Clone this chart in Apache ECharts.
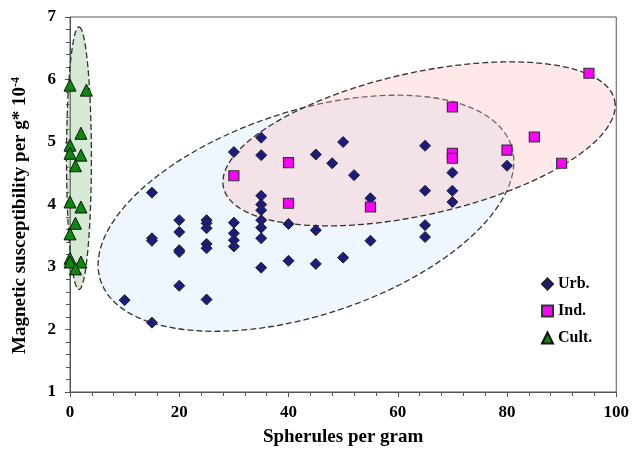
<!DOCTYPE html>
<html>
<head>
<meta charset="utf-8">
<script src="https://cdn.jsdelivr.net/npm/echarts@6/dist/echarts.min.js"></script>
<style>
  html, body { margin: 0; padding: 0; background: #fff; }
  #container { width: 632px; height: 454px; }
</style>
</head>
<body>
<div id="container"></div>
<script>
// spherules per gram, susceptibility (x 10^-4)
var urbData = [
  [10,2.47],[15,2.11],[15,3.46],[15,3.42],[15,4.19],
  [20,3.75],[20,3.56],[20,3.27],[20,3.24],[20,2.70],
  [25,3.75],[25,3.70],[25,3.62],[25,3.37],[25,3.30],[25,2.48],
  [30,4.84],[30,3.71],[30,3.54],[30,3.43],[30,3.33],
  [35,5.07],[35,4.79],[35,4.14],[35,4.00],[35,3.91],[35,3.75],[35,3.63],[35,3.46],[35,2.99],
  [40,3.69],[40,3.10],
  [45,4.80],[45,3.59],[45,3.05],
  [48,4.66],
  [50,5.00],[50,3.15],
  [52,4.47],
  [55,4.10],[55,3.42],
  [65,4.94],[65,4.22],[65,3.67],[65,3.48],
  [70,4.51],[70,4.22],[70,4.04],
  [80,4.62]
];
var indData = [
  [30,4.46],[40,4.67],[40,4.02],[55,3.96],[70,5.56],[70,4.82],[70,4.74],
  [80,4.87],[85,5.08],[90,4.66],[95,6.10]
];
var cultData = [
  [0,5.91],[3,5.83],[2,5.14],[0,4.95],[0,4.82],[2,4.79],[1,4.62],[0,4.04],
  [2,3.96],[1,3.70],[0,3.53],[0,3.14],[0,3.08],[2,3.08],[1,2.97]
];
var seriesNames = ['Urb.', 'Ind.', 'Cult.'];

// group ellipses in data units: centre x, centre y, semi-diameter vectors u and v
var ellipses = [
  [43.2, 3.86, 37.6, 1.08, 5.9, -1.55],    // Urb.
  [1.64, 4.74, 0, 2.10, 2.28, 0],          // Cult.
  [63.9, 4.97, 35.8, 0.70, 2.83, -1.11]    // Ind.
];
var ellipseFill = ['rgba(220,234,252,0.45)', 'rgba(150,200,150,0.4)', 'rgba(255,190,195,0.35)'];

var dom = document.getElementById('container');
var myChart = echarts.init(dom);
var font = '"Liberation Serif", "Times New Roman", serif';

function renderEllipse(params, api) {
  var e = ellipses[params.dataIndex];
  var pts = [];
  for (var i = 0; i < 120; i++) {
    var t = i / 120 * Math.PI * 2;
    var c = Math.cos(t), s = Math.sin(t);
    pts.push(api.coord([e[0] + c * e[2] + s * e[4], e[1] + c * e[3] + s * e[5]]));
  }
  return {
    type: 'polygon',
    shape: { points: pts },
    style: {
      fill: ellipseFill[params.dataIndex],
      stroke: '#333',
      lineWidth: 1.3,
      lineDash: [6, 3]
    }
  };
}

var option = {
  animation: false,
  grid: {
    left: 70, right: 14, top: 17, bottom: 62,
    show: true, borderColor: '#555', borderWidth: 1
  },
  legend: {
    data: seriesNames,
    orient: 'vertical',
    left: 536, top: 271,
    itemWidth: 11, itemHeight: 11, itemGap: 11,
    textStyle: { fontFamily: font, fontWeight: 'bold', fontSize: 16, color: '#000' }
  },
  xAxis: {
    type: 'value', min: 0, max: 100, interval: 20,
    name: 'Spherules per gram', nameLocation: 'middle', nameGap: 36,
    nameTextStyle: { fontFamily: font, fontWeight: 'bold', fontSize: 19, color: '#000' },
    axisLine: { lineStyle: { color: '#555' } },
    axisTick: { show: true, length: 5, lineStyle: { color: '#555' } },
    minorTick: { show: true, splitNumber: 5, length: 4, lineStyle: { color: '#555' } },
    splitLine: { show: false },
    axisLabel: { fontFamily: font, fontWeight: 'bold', fontSize: 17, color: '#000', margin: 12 }
  },
  yAxis: {
    type: 'value', min: 1, max: 7, interval: 1,
    name: 'Magnetic susceptibility per g* 10{sup|-4}', nameLocation: 'middle', nameGap: 39,
    nameTextStyle: {
      fontFamily: font, fontWeight: 'bold', fontSize: 19, color: '#000',
      padding: [0, 22, 0, 0],
      rich: { sup: { fontFamily: font, fontWeight: 'bold', fontSize: 12, verticalAlign: 'top', padding: [0, 0, 9, 0] } }
    },
    axisLine: { show: true, lineStyle: { color: '#555' } },
    axisTick: { show: true, length: 5, lineStyle: { color: '#555' } },
    minorTick: { show: true, splitNumber: 5, length: 4, lineStyle: { color: '#555' } },
    splitLine: { show: false },
    axisLabel: { fontFamily: font, fontWeight: 'bold', fontSize: 17, color: '#000', margin: 14 }
  },
  series: [
    {
      type: 'custom', name: 'groups', renderItem: renderEllipse, clip: false, silent: true, z: 1,
      data: ellipses.map(function (e) { return [e[0], e[1]]; })
    },
    {
      name: 'Urb.', type: 'scatter', symbol: 'diamond', symbolSize: 11, z: 3,
      itemStyle: { color: '#1c1c80', borderColor: '#222', borderWidth: 1, opacity: 1 },
      data: urbData
    },
    {
      name: 'Ind.', type: 'scatter', symbol: 'rect', symbolSize: 10, z: 4,
      itemStyle: { color: '#ff00ff', borderColor: '#333', borderWidth: 1.2, opacity: 1 },
      data: indData
    },
    {
      name: 'Cult.', type: 'scatter', symbol: 'triangle', symbolSize: 12, z: 5,
      itemStyle: { color: '#0a8a0a', borderColor: '#111', borderWidth: 1, opacity: 1 },
      data: cultData
    }
  ]
};
myChart.setOption(option, true);
</script>
</body>
</html>
